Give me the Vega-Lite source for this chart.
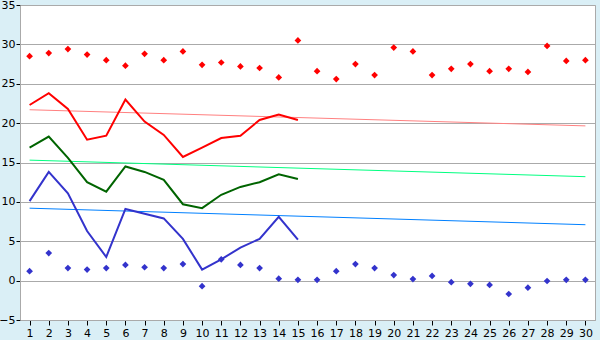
{
  "$schema": "https://vega.github.io/schema/vega-lite/v6.json",
  "width": 575,
  "height": 315,
  "autosize": {"type": "none"},
  "padding": {"left": 20, "top": 5, "right": 5, "bottom": 20},
  "background": "#daeff6",
  "config": {
    "view": {"fill": "white", "stroke": "#aaaaaa", "strokeWidth": 1},
    "axis": {"labelFont": "DejaVu Sans", "labelFontSize": 11, "labelColor": "black", "domainColor": "#aaaaaa", "tickColor": "black", "title": null}
  },
  "datasets": {
    "pts": [
      {"day": 1, "series": "Max", "value": 28.5}, {"day": 2, "series": "Max", "value": 28.9}, {"day": 3, "series": "Max", "value": 29.4},
      {"day": 4, "series": "Max", "value": 28.7}, {"day": 5, "series": "Max", "value": 28.0}, {"day": 6, "series": "Max", "value": 27.3},
      {"day": 7, "series": "Max", "value": 28.8}, {"day": 8, "series": "Max", "value": 28.0}, {"day": 9, "series": "Max", "value": 29.1},
      {"day": 10, "series": "Max", "value": 27.4}, {"day": 11, "series": "Max", "value": 27.7}, {"day": 12, "series": "Max", "value": 27.2},
      {"day": 13, "series": "Max", "value": 27.0}, {"day": 14, "series": "Max", "value": 25.8}, {"day": 15, "series": "Max", "value": 30.5},
      {"day": 16, "series": "Max", "value": 26.6}, {"day": 17, "series": "Max", "value": 25.6}, {"day": 18, "series": "Max", "value": 27.5},
      {"day": 19, "series": "Max", "value": 26.1}, {"day": 20, "series": "Max", "value": 29.6}, {"day": 21, "series": "Max", "value": 29.1},
      {"day": 22, "series": "Max", "value": 26.1}, {"day": 23, "series": "Max", "value": 26.9}, {"day": 24, "series": "Max", "value": 27.5},
      {"day": 25, "series": "Max", "value": 26.6}, {"day": 26, "series": "Max", "value": 26.9}, {"day": 27, "series": "Max", "value": 26.5},
      {"day": 28, "series": "Max", "value": 29.8}, {"day": 29, "series": "Max", "value": 27.9}, {"day": 30, "series": "Max", "value": 28.0},
      {"day": 1, "series": "Min", "value": 1.2}, {"day": 2, "series": "Min", "value": 3.5}, {"day": 3, "series": "Min", "value": 1.6},
      {"day": 4, "series": "Min", "value": 1.4}, {"day": 5, "series": "Min", "value": 1.6}, {"day": 6, "series": "Min", "value": 2.0},
      {"day": 7, "series": "Min", "value": 1.7}, {"day": 8, "series": "Min", "value": 1.6}, {"day": 9, "series": "Min", "value": 2.1},
      {"day": 10, "series": "Min", "value": -0.7}, {"day": 11, "series": "Min", "value": 2.7}, {"day": 12, "series": "Min", "value": 2.0},
      {"day": 13, "series": "Min", "value": 1.6}, {"day": 14, "series": "Min", "value": 0.25}, {"day": 15, "series": "Min", "value": 0.1},
      {"day": 16, "series": "Min", "value": 0.1}, {"day": 17, "series": "Min", "value": 1.2}, {"day": 18, "series": "Min", "value": 2.1},
      {"day": 19, "series": "Min", "value": 1.6}, {"day": 20, "series": "Min", "value": 0.7}, {"day": 21, "series": "Min", "value": 0.2},
      {"day": 22, "series": "Min", "value": 0.6}, {"day": 23, "series": "Min", "value": -0.2}, {"day": 24, "series": "Min", "value": -0.4},
      {"day": 25, "series": "Min", "value": -0.55}, {"day": 26, "series": "Min", "value": -1.7}, {"day": 27, "series": "Min", "value": -0.9},
      {"day": 28, "series": "Min", "value": -0.05}, {"day": 29, "series": "Min", "value": 0.1}, {"day": 30, "series": "Min", "value": 0.1}
    ],
    "lines": [
      {"day": 1, "series": "High", "value": 22.3}, {"day": 2, "series": "High", "value": 23.8}, {"day": 3, "series": "High", "value": 21.8},
      {"day": 4, "series": "High", "value": 17.9}, {"day": 5, "series": "High", "value": 18.4}, {"day": 6, "series": "High", "value": 23.0},
      {"day": 7, "series": "High", "value": 20.2}, {"day": 8, "series": "High", "value": 18.5}, {"day": 9, "series": "High", "value": 15.7},
      {"day": 10, "series": "High", "value": 16.9}, {"day": 11, "series": "High", "value": 18.1}, {"day": 12, "series": "High", "value": 18.4},
      {"day": 13, "series": "High", "value": 20.4}, {"day": 14, "series": "High", "value": 21.1}, {"day": 15, "series": "High", "value": 20.4},
      {"day": 1, "series": "Mean", "value": 16.9}, {"day": 2, "series": "Mean", "value": 18.3}, {"day": 3, "series": "Mean", "value": 15.6},
      {"day": 4, "series": "Mean", "value": 12.5}, {"day": 5, "series": "Mean", "value": 11.3}, {"day": 6, "series": "Mean", "value": 14.5},
      {"day": 7, "series": "Mean", "value": 13.8}, {"day": 8, "series": "Mean", "value": 12.8}, {"day": 9, "series": "Mean", "value": 9.7},
      {"day": 10, "series": "Mean", "value": 9.2}, {"day": 11, "series": "Mean", "value": 10.9}, {"day": 12, "series": "Mean", "value": 11.9},
      {"day": 13, "series": "Mean", "value": 12.5}, {"day": 14, "series": "Mean", "value": 13.5}, {"day": 15, "series": "Mean", "value": 12.9},
      {"day": 1, "series": "Low", "value": 10.1}, {"day": 2, "series": "Low", "value": 13.8}, {"day": 3, "series": "Low", "value": 11.1},
      {"day": 4, "series": "Low", "value": 6.3}, {"day": 5, "series": "Low", "value": 3.0}, {"day": 6, "series": "Low", "value": 9.1},
      {"day": 7, "series": "Low", "value": 8.5}, {"day": 8, "series": "Low", "value": 7.9}, {"day": 9, "series": "Low", "value": 5.3},
      {"day": 10, "series": "Low", "value": 1.4}, {"day": 11, "series": "Low", "value": 2.7}, {"day": 12, "series": "Low", "value": 4.2},
      {"day": 13, "series": "Low", "value": 5.3}, {"day": 14, "series": "Low", "value": 8.1}, {"day": 15, "series": "Low", "value": 5.2}
    ],
    "trend": [
      {"day": 1, "series": "TrendHigh", "value": 21.7}, {"day": 30, "series": "TrendHigh", "value": 19.65},
      {"day": 1, "series": "TrendMean", "value": 15.3}, {"day": 30, "series": "TrendMean", "value": 13.2},
      {"day": 1, "series": "TrendLow", "value": 9.2}, {"day": 30, "series": "TrendLow", "value": 7.1}
    ]
  },
  "encoding": {
    "x": {"field": "day", "type": "ordinal", "scale": {"type": "point", "padding": 0.5, "domain": [1,2,3,4,5,6,7,8,9,10,11,12,13,14,15,16,17,18,19,20,21,22,23,24,25,26,27,28,29,30]},
      "axis": {"labelAngle": 0, "tickSize": 5, "labelPadding": 2, "grid": false}},
    "y": {"field": "value", "type": "quantitative", "scale": {"domain": [-5, 35], "nice": false, "zero": false},
      "axis": {"values": [-5,0,5,10,15,20,25,30,35], "tickSize": 4, "labelPadding": 1, "grid": true, "gridColor": "#aaaaaa", "gridWidth": 1}},
    "color": {"field": "series", "type": "nominal", "legend": null,
      "scale": {"domain": ["Max", "Min", "High", "Mean", "Low", "TrendHigh", "TrendMean", "TrendLow"],
                "range": ["#ff0000", "#3333cc", "#ff0000", "#006400", "#3333cc", "#ff8080", "#00ff80", "#0080ff"]}}
  },
  "layer": [
    {"data": {"name": "trend"}, "mark": {"type": "line", "strokeWidth": 1}},
    {"data": {"name": "lines"}, "mark": {"type": "line", "strokeWidth": 2}},
    {"data": {"name": "pts"}, "mark": {"type": "point", "shape": "diamond", "filled": true, "size": 45, "opacity": 1}}
  ]
}
